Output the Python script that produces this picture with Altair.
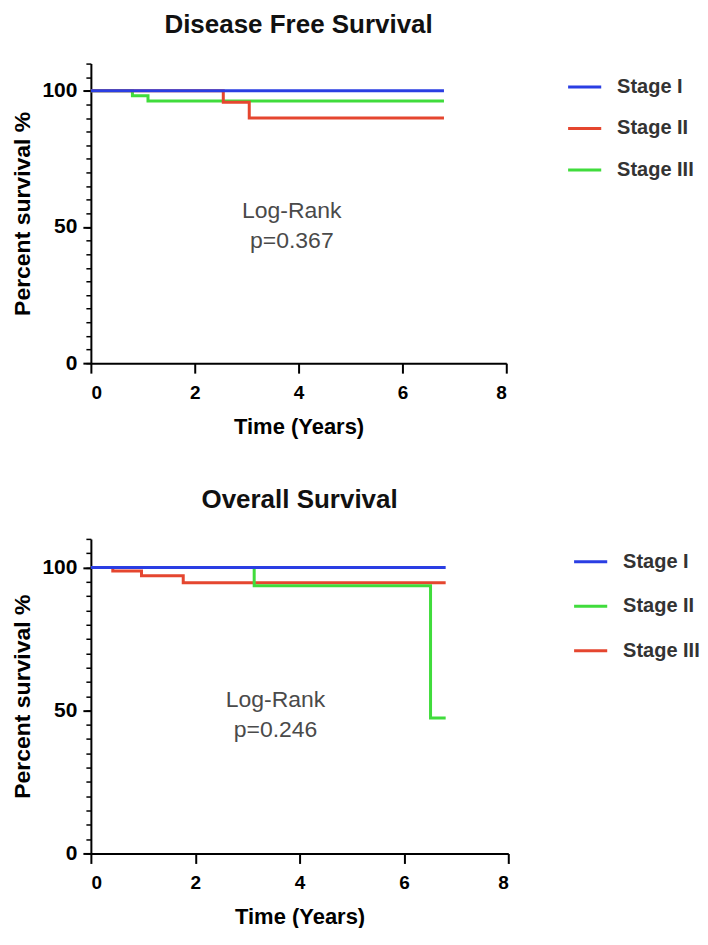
import altair as alt
import pandas as pd

FONT = "Liberation Sans"
stages = ["Stage I", "Stage II", "Stage III"]

# Disease free survival (years, percent)
dfs_t1 = [0, 6.8]
dfs_s1 = [100, 100]
dfs_t2 = [0, 2.55, 3.05, 6.8]
dfs_s2 = [100, 95.8, 90.0, 90.0]
dfs_t3 = [0, 0.8, 1.1, 6.8]
dfs_s3 = [100, 98.2, 96.3, 96.3]

# Overall survival (years, percent)
os_t1 = [0, 6.8]
os_s1 = [100, 100]
os_t2 = [0, 3.13, 6.51, 6.8]
os_s2 = [100, 93.6, 47.4, 47.4]
os_t3 = [0, 0.42, 0.97, 1.77, 6.8]
os_s3 = [100, 98.8, 97.1, 94.7, 94.7]

dfs_colors = ["#2a3ee3", "#e5462f", "#40dc3c"]
os_colors = ["#2a3ee3", "#40dc3c", "#e5462f"]

x_ticks = [0, 2, 4, 6, 8]
y_major = [0, 50, 100]
y_minor = list(range(0, 111, 5))


def panel(title, series, colors, note, note_x, note_y, width, height, leg_x, leg_y, row_pad):
    rows = []
    # draw Stage I last so it sits on top
    for name, ts, ss in reversed(series):
        for t, s in zip(ts, ss):
            rows.append({"stage": name, "t": t, "s": s})
    df = pd.DataFrame(rows)
    xscale = alt.Scale(domain=[0, 8], nice=False, zero=False)
    yscale = alt.Scale(domain=[0, 110], nice=False, zero=False)
    xaxis = alt.Axis(values=x_ticks, title="Time (Years)", tickSize=10,
                     labelPadding=10, titlePadding=14, titleFontSize=22, labelFontSize=19)

    lines = alt.Chart(df).mark_line(interpolate="step-after", strokeWidth=3).encode(
        x=alt.X("t:Q", scale=xscale, axis=xaxis),
        y=alt.Y("s:Q", scale=yscale,
                axis=alt.Axis(values=y_major, orient="left", title="Percent survival %",
                              tickSize=8, labelPadding=6, titlePadding=7, titleFontSize=23,
                              labelFontSize=21)),
        color=alt.Color("stage:N", scale=alt.Scale(domain=stages, range=colors),
                        legend=alt.Legend(title=None, orient="none", legendX=leg_x, legendY=leg_y,
                                          symbolType="stroke", symbolSize=1100, symbolStrokeWidth=3,
                                          labelFont=FONT, labelFontSize=20, labelFontWeight="bold",
                                          labelColor="#333333", labelOffset=14, rowPadding=row_pad,
                                          padding=0)),
    )
    minor = alt.Chart(df).mark_line(opacity=0).encode(
        x=alt.X("t:Q", scale=xscale, axis=xaxis),
        y=alt.Y("s:Q", scale=yscale,
                axis=alt.Axis(values=y_minor, orient="left", labels=False, title=None,
                              tickSize=5, tickWidth=1.5, domain=False)),
    )
    ndf = pd.DataFrame({"note": [note], "nx": [note_x], "ny": [note_y]})
    text = alt.Chart(ndf).mark_text(font=FONT, fontSize=23, color="#4a4a4a", lineBreak="\n",
                                    lineHeight=30, align="center", baseline="middle").encode(
        x=alt.X("nx:Q", scale=xscale, axis=xaxis, title="Time (Years)"),
        y=alt.Y("ny:Q", scale=yscale, axis=None),
        text="note:N",
    )
    return alt.layer(lines, minor, text).resolve_axis(y="independent").properties(
        width=width, height=height,
        title=alt.TitleParams(title, font=FONT, fontSize=26, fontWeight="bold", color="#111111",
                              anchor="middle", frame="group", offset=25),
    )


top = panel("Disease Free Survival",
            [("Stage I", dfs_t1, dfs_s1), ("Stage II", dfs_t2, dfs_s2), ("Stage III", dfs_t3, dfs_s3)],
            dfs_colors, "Log-Rank\np=0.367", 3.87, 55.7, 416, 300, 476, 5, 12.5)
bottom = panel("Overall Survival",
               [("Stage I", os_t1, os_s1), ("Stage II", os_t2, os_s2), ("Stage III", os_t3, os_s3)],
               os_colors, "Log-Rank\np=0.246", 3.54, 53.7, 418, 315, 482, 4.5, 15.5)

chart = alt.vconcat(top, bottom, spacing=50).resolve_scale(color="independent").properties(
    padding={"left": 3, "top": 3, "right": 0, "bottom": 0}
).configure_view(
    stroke=None
).configure_axis(
    grid=False, domainColor="#000000", domainWidth=2, tickColor="#000000", tickWidth=2,
    labelFont=FONT, labelFontWeight="bold", labelColor="#000000",
    titleFont=FONT, titleFontWeight="bold", titleColor="#000000",
)

chart.save("out.html", embed_options={"renderer": "svg", "actions": False})
